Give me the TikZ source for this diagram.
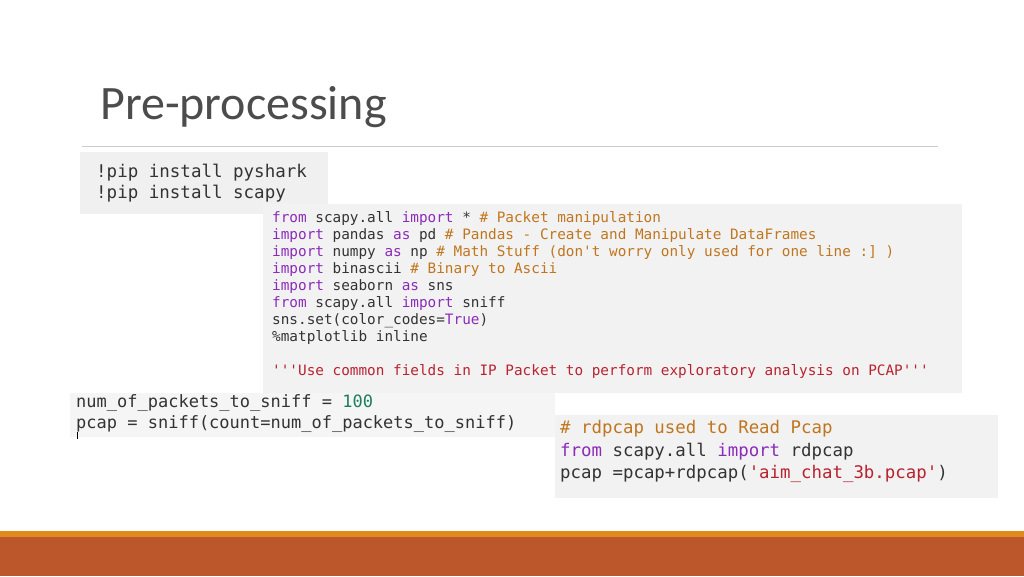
\documentclass[tikz,border=0pt]{standalone}
\usepackage{fontspec}
\setmainfont{Carlito}
\setmonofont{DejaVu Sans Mono}
\definecolor{kwc}{HTML}{8B2BB9}
\definecolor{cmc}{HTML}{C0761E}
\definecolor{stc}{HTML}{B8232F}
\definecolor{nuc}{HTML}{1E7F5C}
\definecolor{txc}{HTML}{333333}
\definecolor{barA}{HTML}{E08A1E}
\definecolor{barB}{HTML}{BC562B}
\newcommand{\ckw}[1]{\textcolor{kwc}{#1}}
\newcommand{\ccm}[1]{\textcolor{cmc}{#1}}
\newcommand{\cst}[1]{\textcolor{stc}{#1}}
\newcommand{\cnu}[1]{\textcolor{nuc}{#1}}
\begin{document}
\begin{tikzpicture}[x=1pt,y=-1pt,
  code/.style={anchor=mid west,inner sep=0pt,text=txc,font=\ttfamily\fontsize{#1}{#1}\selectfont},
  code/.default=14.35]
\useasboundingbox[fill=white] (0,0) rectangle (1024,576);
\node[anchor=mid west,inner sep=0pt,text=black!70,font=\fontsize{48}{48}\selectfont] (title) at (100,117) {Pre-processing};
\draw[black!20,line width=1pt] (82,146) coordinate (ra) -- (938,146) coordinate (rb);
% boxes
\fill[black!6] (80,152) rectangle (328,214);
\fill[black!5] (263,204) rectangle (962,393);
\fill[black!4] (70,393) rectangle (555,437);
\fill[black!5] (555,415) rectangle (998,498);
% pip
\node[code=17.5] (p1) at (96,175) {!pip install pyshark};
\node[code=17.5] (p2) at (96,196) {!pip install scapy};
% imports
\node[code] (i1) at (272,220) {\ckw{from} scapy.all \ckw{import} * \ccm{\# Packet manipulation}};
\node[code] (i2) at (272,237) {\ckw{import} pandas \ckw{as} pd \ccm{\# Pandas - Create and Manipulate DataFrames}};
\node[code] (i3) at (272,254) {\ckw{import} numpy \ckw{as} np \ccm{\# Math Stuff (don't worry only used for one line :] )}};
\node[code] (i4) at (272,271) {\ckw{import} binascii \ccm{\# Binary to Ascii}};
\node[code] (i5) at (272,288) {\ckw{import} seaborn \ckw{as} sns};
\node[code] (i6) at (272,305) {\ckw{from} scapy.all \ckw{import} sniff};
\node[code] (i7) at (272,322) {sns.set(color\_codes=\ckw{True})};
\node[code] (i8) at (272,339) {\%matplotlib inline};
\node[code] (i9) at (272,373) {\cst{'''Use common fields in IP Packet to perform exploratory analysis on PCAP'''}};
% sniff
\node[code=17] (s1) at (76,405) {num\_of\_packets\_to\_sniff = \cnu{100}};
\node[code=17] (s2) at (76,426) {pcap = sniff(count=num\_of\_packets\_to\_sniff)};
\draw[black] (77,432) -- (77,439);
% rdpcap
\node[code=17.4] (r1t) at (560,431) {\ccm{\# rdpcap used to Read Pcap}};
\node[code=17.4] (r2t) at (560,454) {\ckw{from} scapy.all \ckw{import} rdpcap};
\node[code=17.4] (r3t) at (560,476) {pcap =pcap+rdpcap(\cst{'aim\_chat\_3b.pcap'})};
% bottom bar
\fill[barA] (0,531) rectangle (1024,537);
\fill[barB] (0,537) rectangle (1024,576);
\end{tikzpicture}
\end{document}
